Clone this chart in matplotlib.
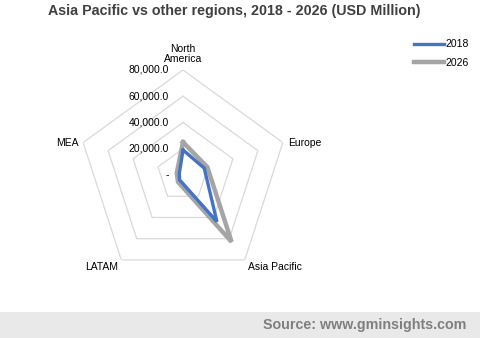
import numpy as np
import matplotlib
matplotlib.use("Agg")
import matplotlib.pyplot as plt
from matplotlib.lines import Line2D
from matplotlib.patches import Rectangle
from matplotlib.transforms import offset_copy

plt.rcParams["font.family"] = ["Liberation Sans", "DejaVu Sans"]

# regional market size, USD million
REGIONS = ["North\nAmerica", "Europe", "Asia Pacific", "LATAM", "MEA"]
VALUES_2018 = [19000, 17000, 44000, 4500, 3000]
VALUES_2026 = [25000, 19500, 63000, 6500, 5000]
RINGS = [20000, 40000, 60000, 80000]
RING_LABELS = ["20,000.0", "40,000.0", "60,000.0", "80,000.0"]

BLUE = "#4472C4"
GREY = "#A5A5A5"
GRID = "#D9D9D9"
TEXT = "#404040"

fig = plt.figure(figsize=(4.8, 3.38), dpi=100)
fig.patch.set_facecolor("white")

ax = fig.add_axes([0.1625, 0.1716, 0.4375, 0.6213], projection="polar")
ax.set_theta_offset(np.pi / 2)
ax.set_theta_direction(-1)
ax.set_ylim(0, 80000)
ax.grid(False)
ax.spines["polar"].set_visible(False)
ax.set_xticks([])
ax.set_yticks([])
ax.patch.set_alpha(0)

angles = np.linspace(0, 2 * np.pi, len(REGIONS), endpoint=False)
loop = np.append(angles, angles[0])

# pentagon rings
for r in RINGS:
    ax.plot(loop, [r] * len(loop), color=GRID, lw=0.9, zorder=1)

def closed(vals):
    return list(vals) + [vals[0]]

ax.plot(loop, closed(VALUES_2018), color=BLUE, lw=2.4, zorder=3,
        solid_joinstyle="miter")
ax.plot(loop, closed(VALUES_2026), color=GREY, lw=3.2, zorder=2,
        solid_joinstyle="miter")

# radial value labels, to the left of the top axis
lab_tr = offset_copy(ax.transData, fig=fig, x=-14, y=0, units="dots")
ax.text(0, 0, "-", transform=lab_tr, ha="right", va="center",
        fontsize=7.5, color="#000000")
for r, s in zip(RINGS, RING_LABELS):
    ax.text(0, r, s, transform=lab_tr, ha="right", va="center",
            fontsize=7.5, color="#000000")

# category labels around the outer ring
placement = [
    (0, 6, "center", "bottom"),
    (5, 0, "left", "center"),
    (3, -2, "left", "top"),
    (-3, -2, "right", "top"),
    (-5, 0, "right", "center"),
]
for ang, name, (dx, dy, ha, va) in zip(angles, REGIONS, placement):
    tr = offset_copy(ax.transData, fig=fig, x=dx, y=dy, units="dots")
    ax.text(ang, 80000, name, transform=tr, ha=ha, va=va, fontsize=7.5,
            color="#000000", linespacing=1.0)

fig.text(0.4875, 0.967, "Asia Pacific vs other regions, 2018 - 2026 (USD Million)",
         ha="center", va="center", fontsize=10.3, fontweight="bold", color=TEXT)

handles = [Line2D([], [], color=BLUE, lw=2.4), Line2D([], [], color=GREY, lw=3.2)]
fig.legend(handles, ["2018", "2026"], loc="upper left",
           bbox_to_anchor=(0.862, 0.884), frameon=False, fontsize=7.5,
           handlelength=2.9, handletextpad=0.15, labelspacing=0.85,
           borderpad=0, borderaxespad=0)

fig.patches.append(Rectangle((0, 0), 1, 0.077, transform=fig.transFigure,
                             facecolor="#E9E9E9", edgecolor="none", zorder=0))
fig.text(0.971, 0.0385, "Source: www.gminsights.com", ha="right", va="center",
         fontsize=10.3, fontweight="bold", color="#7F7F7F")

fig.savefig("out.png", dpi=100)
